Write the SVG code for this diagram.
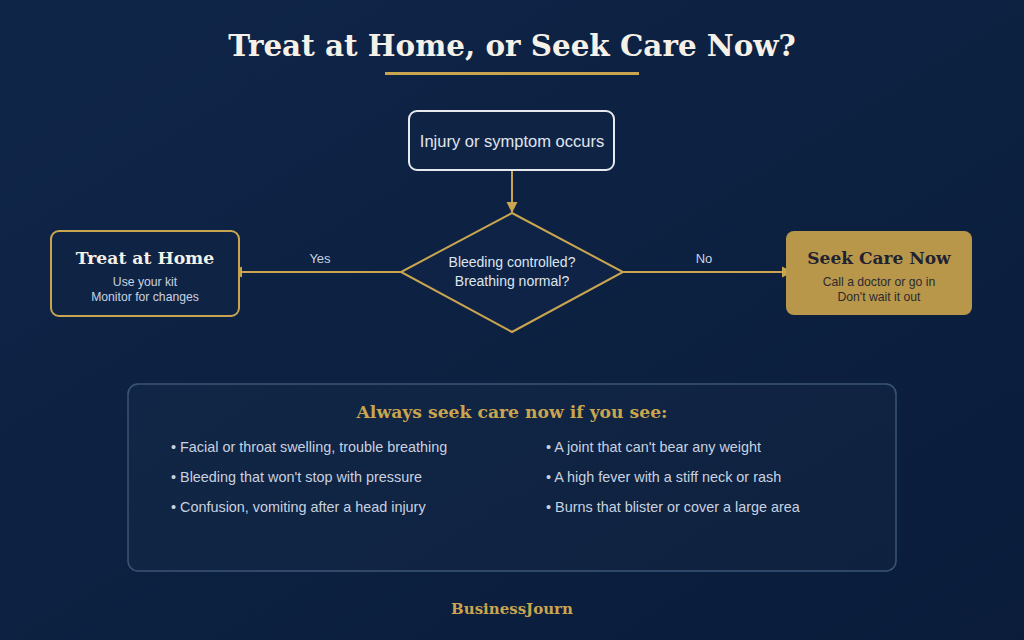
<svg xmlns="http://www.w3.org/2000/svg" width="1024" height="640" viewBox="0 0 1024 640">
  <defs>
    <linearGradient id="bg" x1="0" y1="0" x2="1" y2="1">
      <stop offset="0" stop-color="#0f2548"/>
      <stop offset="1" stop-color="#0a1c3a"/>
    </linearGradient>
    <marker id="arrow" markerWidth="12" markerHeight="12" refX="10" refY="6" orient="auto" markerUnits="userSpaceOnUse">
      <path d="M0,0.5 L11,6 L0,11.5 Z" fill="#c9a54f"/>
    </marker>
    <style>
      .title { font-family: "DejaVu Serif", "Liberation Serif", serif; font-weight: bold; }
      .sans { font-family: "Liberation Sans", Arial, sans-serif; }
      .conn { stroke: #c9a54f; stroke-width: 2; fill: none; }
      .lbl { font-family: "Liberation Sans", Arial, sans-serif; font-size: 13px; fill: #c8d2e0; text-anchor: middle; }
      .bullet { font-family: "Liberation Sans", Arial, sans-serif; font-size: 14.4px; fill: #c8d2e0; }
    </style>
  </defs>
  <rect width="1024" height="640" fill="url(#bg)"/>

  <text class="title" x="512" y="56" font-size="29.4" fill="#f5f1e8" text-anchor="middle">Treat at Home, or Seek Care Now?</text>
  <rect x="385" y="72" width="254" height="3" fill="#c9a54f"/>

  <g id="connectors">
    <line class="conn" x1="512" y1="171" x2="512" y2="212" marker-end="url(#arrow)"/>
    <line class="conn" x1="401" y1="272" x2="232" y2="272" marker-end="url(#arrow)"/>
    <line class="conn" x1="623" y1="272" x2="792" y2="272" marker-end="url(#arrow)"/>
    <text class="lbl" x="320" y="263">Yes</text>
    <text class="lbl" x="704" y="263">No</text>
  </g>

  <g id="start">
    <rect x="409" y="111" width="205" height="59" rx="8" fill="#0f2445" stroke="#e6e9ee" stroke-width="2"/>
    <text class="sans" x="512" y="147" font-size="16.5" fill="#e0e6ef" text-anchor="middle">Injury or symptom occurs</text>
  </g>

  <g id="decision">
    <polygon points="512,213 623,272 512,332 401,272" fill="#0e2346" stroke="#c9a54f" stroke-width="2"/>
    <text class="sans" x="512" y="267" font-size="14" fill="#dfe5ee" text-anchor="middle">Bleeding controlled?</text>
    <text class="sans" x="512" y="286" font-size="14" fill="#dfe5ee" text-anchor="middle">Breathing normal?</text>
  </g>

  <g id="home">
    <rect x="51" y="231" width="188" height="85" rx="8" fill="#0f2445" stroke="#c9a54f" stroke-width="2"/>
    <text class="title" x="145" y="264" font-size="17.2" fill="#f5f1e8" text-anchor="middle">Treat at Home</text>
    <text class="sans" x="145" y="286" font-size="12.2" fill="#c8d2e0" text-anchor="middle">Use your kit</text>
    <text class="sans" x="145" y="301" font-size="12.2" fill="#c8d2e0" text-anchor="middle">Monitor for changes</text>
  </g>

  <g id="care">
    <rect x="786" y="231" width="186" height="84" rx="8" fill="#b8974a"/>
    <text class="title" x="879" y="264" font-size="17" fill="#1f2230" text-anchor="middle">Seek Care Now</text>
    <text class="sans" x="879" y="286" font-size="12.2" fill="#2a2a30" text-anchor="middle">Call a doctor or go in</text>
    <text class="sans" x="879" y="301" font-size="12.2" fill="#2a2a30" text-anchor="middle">Don't wait it out</text>
  </g>

  <g id="warnings">
    <rect x="128" y="384" width="768" height="187" rx="10" fill="#ffffff" fill-opacity="0.02" stroke="#3b5578" stroke-width="1.5"/>
    <text class="title" x="512" y="418" font-size="17.2" fill="#c9a54f" text-anchor="middle">Always seek care now if you see:</text>
    <text class="bullet" x="171" y="452">• Facial or throat swelling, trouble breathing</text>
    <text class="bullet" x="171" y="482">• Bleeding that won't stop with pressure</text>
    <text class="bullet" x="171" y="512">• Confusion, vomiting after a head injury</text>
    <text class="bullet" x="546" y="452">• A joint that can't bear any weight</text>
    <text class="bullet" x="546" y="482">• A high fever with a stiff neck or rash</text>
    <text class="bullet" x="546" y="512">• Burns that blister or cover a large area</text>
  </g>

  <text class="title" x="512" y="614" font-size="15" fill="#c9a54f" text-anchor="middle">BusinessJourn</text>
</svg>
